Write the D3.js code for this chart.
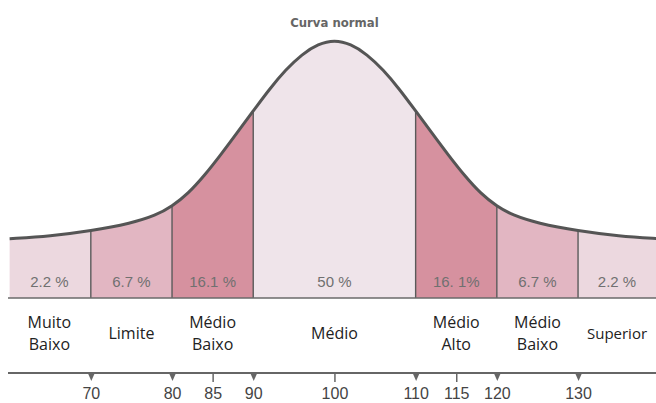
<!DOCTYPE html>
<html>
<head>
<meta charset="utf-8">
<script src="https://cdn.jsdelivr.net/npm/d3@7/dist/d3.min.js"></script>
<style>
  html, body { margin: 0; padding: 0; background: #fff; }
  svg { display: block; }
</style>
</head>
<body>
<div id="chart"></div>
<script>
// curva normal (altura relativa ao pico = 100)
const curveValues = [60, 65, 70, 75, 78, 80, 82, 84, 86, 88, 90, 92, 94, 96, 98, 100,
                     102, 104, 106, 108, 110, 112, 114, 116, 118, 120, 122, 125, 130, 135, 140];
const curveHeights = [23, 24, 26, 29, 32, 35.5, 40.5, 47.5, 55.5, 64, 72.5, 81, 88.5, 94.5, 98.5, 100,
                      98.5, 94.5, 88.5, 81, 72.5, 64, 55.5, 47.5, 40.5, 35.5, 32, 29, 26, 24, 23];

// faixas
const bandStarts = [59.8, 70, 80, 90, 110, 120, 130];
const bandEnds   = [70, 80, 90, 110, 120, 130, 140];
const percentLabels = ["2.2 %", "6.7 %", "16.1 %", "50 %", "16. 1%", "6.7 %", "2.2 %"];
const categoryLabels = [["Muito", "Baixo"], ["Limite"], ["Médio", "Baixo"], ["Médio"],
                        ["Médio", "Alto"], ["Médio", "Baixo"], ["Superior"]];
const bandColors = ["#ecd8df", "#e2b6c2", "#d6919f", "#efe4ea", "#d6919f", "#e2b6c2", "#ecd8df"];

// eixo
const tickValues = [70, 80, 85, 90, 100, 110, 115, 120, 130];
const arrowTicks = [70, 80, 90, 110, 120, 130];

const width = 656, height = 403;
const baseY = 298, peakY = 40, axisY = 373;

const svg = d3.select("#chart").append("svg")
    .attr("width", width)
    .attr("height", height);

const x = d3.scaleLinear().domain([59.8, 139.6]).range([8, 656]);
const y = d3.scaleLinear().domain([0, 100]).range([baseY, peakY]);

const curveData = curveValues.map((v, i) => ({ v: v, h: curveHeights[i] }));

const lineGen = d3.line()
    .x(d => x(d.v))
    .y(d => y(d.h))
    .curve(d3.curveBasis);

const areaGen = d3.area()
    .x(d => x(d.v))
    .y0(baseY)
    .y1(d => y(d.h))
    .curve(d3.curveBasis);

// mascara (clip) da área sob a curva
svg.append("clipPath").attr("id", "under")
    .append("path").attr("d", areaGen(curveData));

const bands = svg.append("g").attr("clip-path", "url(#under)");
bands.selectAll("rect")
    .data(bandStarts)
    .join("rect")
    .attr("x", d => x(d))
    .attr("width", (d, i) => x(bandEnds[i]) - x(d))
    .attr("y", peakY - 5)
    .attr("height", baseY - peakY + 5)
    .attr("fill", (d, i) => bandColors[i]);

// divisórias
bands.selectAll("line")
    .data(bandStarts.slice(1))
    .join("line")
    .attr("x1", d => x(d)).attr("x2", d => x(d))
    .attr("y1", peakY).attr("y2", baseY)
    .attr("stroke", "#5a5a5a")
    .attr("stroke-width", 1.4);

// linha de base
svg.append("line")
    .attr("x1", 8).attr("x2", width)
    .attr("y1", baseY).attr("y2", baseY)
    .attr("stroke", "#6a6a6a")
    .attr("stroke-width", 1.5);

// curva
svg.append("path")
    .attr("d", lineGen(curveData))
    .attr("fill", "none")
    .attr("stroke", "#555")
    .attr("stroke-width", 3)
    .attr("stroke-linejoin", "round");

// título
svg.append("text")
    .attr("x", x(100)).attr("y", 27)
    .attr("text-anchor", "middle")
    .attr("font-family", "'Liberation Sans Narrow', 'DejaVu Sans Condensed', sans-serif")
    .attr("font-weight", "bold")
    .attr("font-size", 13)
    .attr("fill", "#666")
    .text("Curva normal");

const mid = i => (x(bandStarts[i]) + x(Math.min(bandEnds[i], 139.6))) / 2;

// percentagens
svg.selectAll("text.pct")
    .data(percentLabels)
    .join("text")
    .attr("class", "pct")
    .attr("x", (d, i) => mid(i))
    .attr("y", 287)
    .attr("text-anchor", "middle")
    .attr("font-family", "'Liberation Sans', Arial, sans-serif")
    .attr("font-size", 15)
    .attr("fill", "#707070")
    .text(d => d);

// categorias
const cat = svg.selectAll("text.cat")
    .data(categoryLabels)
    .join("text")
    .attr("class", "cat")
    .attr("text-anchor", "middle")
    .attr("font-family", "'Open Sans', 'Noto Sans', sans-serif")
    .attr("font-size", d => d[0] === "Superior" ? 15 : 16)
    .attr("fill", "#222");
cat.selectAll("tspan")
    .data((d, i) => d.map(t => ({ t: t, i: i, n: d.length })))
    .join("tspan")
    .attr("x", d => mid(d.i))
    .attr("y", (d, j) => d.n === 1 ? 339 : 328 + j * 22)
    .text(d => d.t);

// eixo inferior
svg.append("line")
    .attr("x1", 8).attr("x2", width)
    .attr("y1", axisY).attr("y2", axisY)
    .attr("stroke", "#666")
    .attr("stroke-width", 2);

const axis = d3.axisBottom(x)
    .tickValues(tickValues)
    .tickSize(0)
    .tickPadding(15)
    .tickFormat(d3.format("d"));

const gAxis = svg.append("g")
    .attr("transform", `translate(0,${axisY})`)
    .call(axis);
gAxis.select(".domain").remove();
gAxis.selectAll("text")
    .attr("font-family", "'Liberation Sans', Arial, sans-serif")
    .attr("font-size", 16)
    .attr("fill", "#444");

// marcadores
gAxis.selectAll(".tick").each(function(d) {
    const t = d3.select(this);
    if (arrowTicks.includes(d)) {
        t.append("path")
            .attr("d", "M-3.5,0 L3.5,0 L0,8 Z")
            .attr("fill", "#666");
    } else {
        t.append("line")
            .attr("y1", 0).attr("y2", 9)
            .attr("stroke", "#666")
            .attr("stroke-width", 1.5);
    }
});
</script>
</body>
</html>
